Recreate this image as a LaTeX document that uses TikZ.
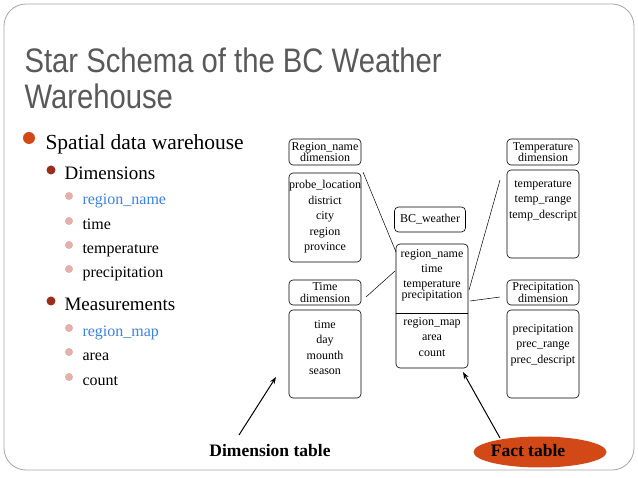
\documentclass[tikz,border=0pt]{standalone}
\usepackage{fontspec}
\setmainfont{Liberation Serif}
\newfontfamily\titlefont[FakeStretch=0.86]{Liberation Sans}
\usetikzlibrary{arrows.meta,shapes.geometric}
\definecolor{ttl}{HTML}{595959}
\definecolor{b1}{HTML}{D34817}
\definecolor{b2}{HTML}{9B2D1F}
\definecolor{b3}{HTML}{E6B0AA}
\definecolor{lnk}{HTML}{3C82E0}
\begin{document}
\begin{tikzpicture}[x=1pt,y=-1pt,
  box/.style={draw, rounded corners=4pt, line width=0.6pt, inner sep=0pt},
  dt/.style={font=\fontsize{12}{15.5}\selectfont, align=center},
  dh/.style={font=\fontsize{12}{11.5}\selectfont, align=center},
  l1/.style={anchor=base west, font=\fontsize{21.5}{24}\selectfont},
  l2/.style={anchor=base west, font=\fontsize{19}{22}\selectfont},
  l3/.style={anchor=base west, font=\fontsize{16}{18}\selectfont},
  arr/.style={-{Stealth[length=7pt,width=5pt]}, line width=1pt}]
\useasboundingbox (0,0) rectangle (638,478);
\draw[gray!70, line width=0.8pt, rounded corners=22pt] (4,4) rectangle (634,470);
% title
\node[anchor=base west, text=ttl, font=\titlefont\fontsize{34}{36}\selectfont] (t1) at (21,73) {Star Schema of the BC Weather};
\node[anchor=base west, text=ttl, font=\titlefont\fontsize{34}{36}\selectfont] (t2) at (21,109) {Warehouse};
% bullets
\fill[b1] (29,138) circle (6);
\node[l1] (s1) at (42,150) {Spatial data warehouse};
\fill[b2] (51,170) circle (4.5);
\node[l2] (s2) at (61,180) {Dimensions};
\foreach \y/\t/\c in {205/region\_name/lnk, 230/time/black, 254/temperature/black, 278/precipitation/black}{
  \fill[b3] (69,\y-9) circle (4);
  \node[l3, text=\c] at (79,\y) {\t};}
\fill[b2] (51,301) circle (4.5);
\node[l2] (s3) at (61,311) {Measurements};
\foreach \y/\t/\c in {337/region\_map/lnk, 361/area/black, 386/count/black}{
  \fill[b3] (69,\y-9) circle (4);
  \node[l3, text=\c] at (79,\y) {\t};}
% dimension boxes
\node[box, dh, minimum width=72, minimum height=26] (rh) at (325,152) {Region\_name\\dimension};
\node[box, minimum width=72, minimum height=89] (rb) at (325,217.5) {};
\node[dt, anchor=north] at (325,177) {probe\_location\\district\\city\\region\\province};
\node[box, dh, minimum width=72, minimum height=25] (th) at (325,292.5) {Time\\dimension};
\node[box, minimum width=72, minimum height=88] (tb) at (325,354) {};
\node[dt, anchor=north] at (325,317) {time\\day\\mounth\\season};
\node[box, dh, minimum width=72, minimum height=26] (eh) at (543,152) {Temperature\\dimension};
\node[box, minimum width=72, minimum height=88] (eb) at (543,214) {};
\node[dt, anchor=north] at (543,177) {temperature\\temp\_range\\temp\_descript};
\node[box, dh, minimum width=72, minimum height=25] (ph) at (543,292.5) {Precipitation\\dimension};
\node[box, minimum width=72, minimum height=88] (pb) at (543,354) {};
\node[dt, anchor=north] at (543,321) {precipitation\\prec\_range\\prec\_descript};
% fact
\node[box, dt, minimum width=71, minimum height=25] (bc) at (430,219.5) {BC\_weather};
\node[box, minimum width=72, minimum height=124] (fb) at (432,306) {};
\draw[line width=0.6pt] (fb.west |- 0,313) coordinate (sl) -- (fb.east |- 0,313) coordinate (sr);
\node[dt, anchor=north] at (432,246) {region\_name\\time\\[-1pt]temperature\\[-4pt]precipitation};
\node[dt, anchor=north] at (432,314) {region\_map\\area\\count};
% connectors
\coordinate (c1) at (363,172); \coordinate (c1b) at (396,252);
\coordinate (c2) at (366,297); \coordinate (c2b) at (395,271);
\coordinate (c3) at (500,180); \coordinate (c3b) at (469,290);
\coordinate (c4) at (500,297); \coordinate (c4b) at (470,301);
\draw[line width=0.5pt] (c1) -- (c1b) (c2) -- (c2b) (c3) -- (c3b) (c4) -- (c4b);
% labels
\node[font=\bfseries\fontsize{17.5}{20}\selectfont] (dl) at (270,451) {Dimension table};
\node[ellipse, fill=b1, minimum width=133, minimum height=31, inner sep=0pt] (fe) at (540,452) {};
\node[font=\bfseries\fontsize{17.5}{20}\selectfont] (fl) at (528,451) {Fact table};
\coordinate (a1) at (239,435); \coordinate (a1t) at (276,377);
\coordinate (a2) at (500,438); \coordinate (a2t) at (463,372);
\draw[arr] (a1) -- (a1t);
\draw[arr] (a2) -- (a2t);
\end{tikzpicture}
\end{document}
